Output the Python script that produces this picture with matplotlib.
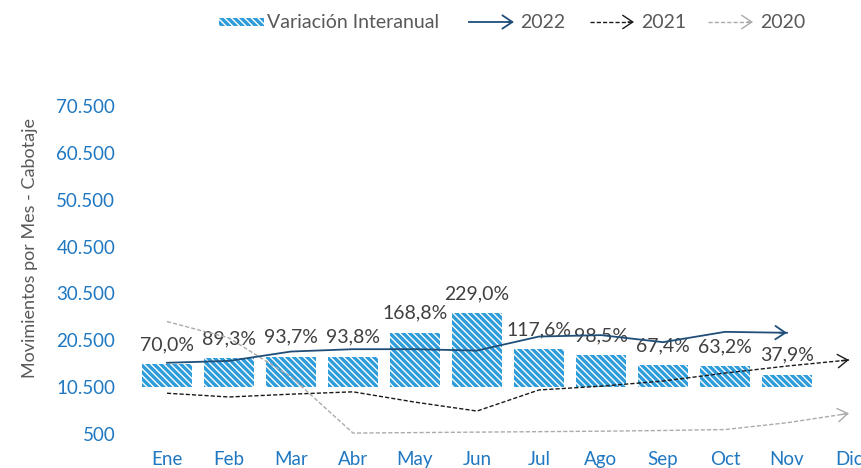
import matplotlib.pyplot as plt
from matplotlib.patches import Rectangle
from matplotlib.ticker import FuncFormatter

meses = ['Ene', 'Feb', 'Mar', 'Abr', 'May', 'Jun', 'Jul', 'Ago', 'Sep', 'Oct', 'Nov', 'Dic']
var_interanual = [70.0, 89.3, 93.7, 93.8, 168.8, 229.0, 117.6, 98.5, 67.4, 63.2, 37.9]
mov_2022 = [15700, 16100, 18100, 18600, 18600, 18300, 21300, 21600, 20100, 22300, 22100]
mov_2021 = [9200, 8400, 9000, 9500, 7300, 5400, 9900, 10700, 11800, 13500, 15000, 16300]
mov_2020 = [24500, 21000, 12700, 700, 800, 900, 1000, 1100, 1250, 1450, 2900, 4900]
yticks = [500, 10500, 20500, 30500, 40500, 50500, 60500, 70500]

BLUE_BAR = '#2E9BDA'
TICK_BLUE = '#1F78C1'
C2022 = '#1F4E79'
C2021 = '#1A1A1A'
C2020 = '#ABABAB'
GREY_TXT = '#595959'
LABEL_TXT = '#404040'

plt.rcParams['font.family'] = ['Lato', 'DejaVu Sans']
plt.rcParams['hatch.linewidth'] = 1.0

fig = plt.figure(figsize=(8.61, 4.68), dpi=100)
W, H = 861, 468

# axes: x from 136 to 880 px, y from 106 to 434 px
ax = fig.add_axes([136 / W, (H - 434) / H, (880 - 136) / W, (434 - 106) / H])
ax2 = ax.twinx()
ax.set_zorder(ax2.get_zorder() + 1)
ax.patch.set_visible(False)

x = list(range(len(meses)))

# bars on hidden secondary axis
bars = ax2.bar(x[:len(var_interanual)], var_interanual, width=0.8, color=BLUE_BAR,
               edgecolor='white', linewidth=0, hatch='\\\\\\\\\\')
ax2.set_ylim(-147.8, 877)
ax2.axis('off')
for xi, v in zip(x, var_interanual):
    ax2.annotate(f'{v:.1f}%'.replace('.', ','), xy=(xi, v), xytext=(0, 14),
                 textcoords='offset points', ha='center', va='center',
                 fontsize=14, color=LABEL_TXT)


def arrow_line(data, color, ls, lw):
    xs = x[:len(data)]
    ax.plot(xs, data, color=color, linestyle=ls, linewidth=lw)
    x0, y0 = xs[-2], data[-2]
    x1, y1 = xs[-1], data[-1]
    ax.annotate('', xy=(x1, y1), xytext=(x1 - 0.12 * (x1 - x0), y1 - 0.12 * (y1 - y0)),
                arrowprops=dict(arrowstyle='->, head_length=0.6, head_width=0.4',
                                color=color, lw=lw, mutation_scale=12,
                                shrinkA=0, shrinkB=0))


arrow_line(mov_2020, C2020, (0, (3, 1.5)), 1.0)
arrow_line(mov_2021, C2021, (0, (3, 1.5)), 1.0)
arrow_line(mov_2022, C2022, '-', 1.3)

ax.set_xlim(-0.5, 11.5)
ax.set_ylim(500, 70500)
ax.set_yticks(yticks)
ax.yaxis.set_major_formatter(FuncFormatter(lambda v, p: f'{v:,.0f}'.replace(',', '.')))
ax.set_xticks(x)
ax.set_xticklabels(meses)
ax.tick_params(axis='both', length=0, labelsize=13.5, labelcolor=TICK_BLUE)
ax.tick_params(axis='y', pad=15)
ax.tick_params(axis='x', pad=12)
for s in ax.spines.values():
    s.set_visible(False)

fig.text(30 / W, 1 - 248 / H, 'Movimientos por Mes - Cabotaje', rotation=90,
         ha='center', va='center', fontsize=13, color=GREY_TXT)

# legend
ly = 22
fig.patches.append(Rectangle((219, H - ly - 4), 45, 8, transform=None, facecolor=BLUE_BAR,
                             edgecolor='white', linewidth=0, hatch='\\\\\\\\\\'))
fig.text(267 / W, 1 - ly / H, 'Variación Interanual', ha='left', va='center',
         fontsize=14, color=GREY_TXT)
for x0, x1, tx, col, ls, lw, lab in [(469, 514, 520, C2022, '-', 1.3, '2022'),
                                       (590, 634, 641, C2021, (0, (3, 1.5)), 1.0, '2021'),
                                       (708, 753, 760, C2020, (0, (3, 1.5)), 1.0, '2020')]:
    fig.add_artist(plt.Line2D([x0 / W, (x1 - 3) / W], [1 - ly / H, 1 - ly / H],
                              color=col, linestyle=ls, linewidth=lw))
    ax.annotate('', xy=(x1, H - ly), xytext=(x1 - 6, H - ly), xycoords='figure pixels',
                textcoords='figure pixels',
                arrowprops=dict(arrowstyle='->, head_length=0.6, head_width=0.4',
                                color=col, lw=lw, mutation_scale=12, shrinkA=0, shrinkB=0))
    fig.text(tx / W, 1 - ly / H, lab, ha='left', va='center', fontsize=14, color=GREY_TXT)

fig.savefig('out.png', dpi=100)
